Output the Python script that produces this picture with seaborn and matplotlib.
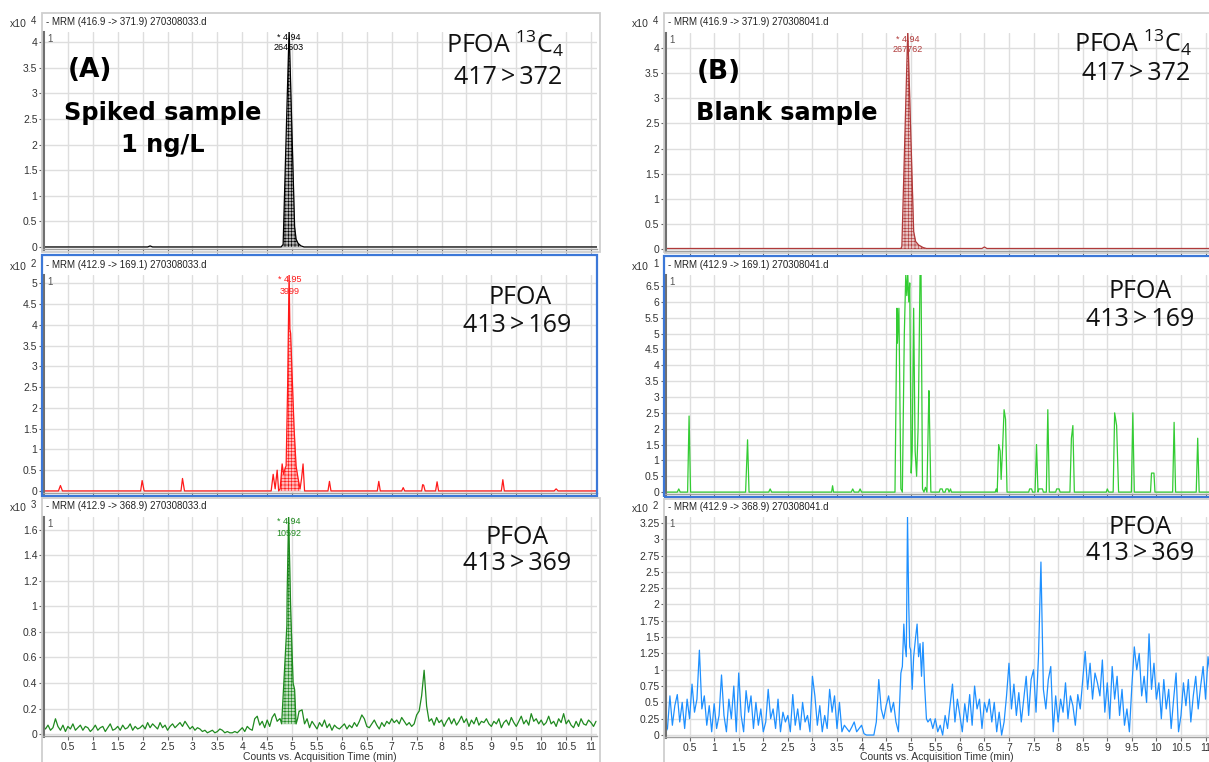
import numpy as np
import matplotlib
matplotlib.use("Agg")
import matplotlib.pyplot as plt
from matplotlib.colors import to_rgb
from matplotlib.patches import Rectangle
import seaborn as sns

# ---------------- data ----------------
# (A) spiked sample, 417>372 (x10^4 counts)
A1_T = [0.0, 2.10, 2.15, 2.20, 4.78, 4.82, 4.94, 5.05, 5.08, 5.12, 5.18, 5.24, 11.2]
A1_Y = [0.0, 0.0, 0.02, 0.0, 0.0, 0.05, 4.25, 0.4, 0.15, 0.07, 0.02, 0.0, 0.0]

# (A) 413>169 (x10^2 counts)
A2_T = [0.0, 0.31, 0.35, 0.39, 1.96, 1.99, 2.03, 2.77, 2.80, 2.84,
        4.58, 4.62, 4.66, 4.70, 4.73, 4.76, 4.80, 4.83, 4.86, 4.88, 4.91, 4.94, 4.955, 4.97,
        5.00, 5.04, 5.08, 5.12, 5.16, 5.19, 5.22, 5.25,
        5.72, 5.75, 5.78, 6.71, 6.74, 6.77, 7.20, 7.23, 7.26, 7.60, 7.62, 7.64, 7.67,
        7.88, 7.91, 7.94, 9.20, 9.23, 9.26, 10.26, 10.30, 10.34, 11.2]
A2_Y = [0.0, 0.0, 0.13, 0.0, 0.0, 0.25, 0.0, 0.0, 0.30, 0.0,
        0.0, 0.40, 0.05, 0.50, 0.0, 0.05, 0.65, 0.40, 0.55, 0.6, 2.5, 5.25, 3.9, 3.8,
        2.8, 1.5, 0.6, 0.3, 0.05, 0.3, 0.65, 0.0,
        0.0, 0.23, 0.0, 0.0, 0.23, 0.0, 0.0, 0.08, 0.0, 0.0, 0.15, 0.14, 0.0,
        0.0, 0.22, 0.0, 0.0, 0.27, 0.0, 0.0, 0.05, 0.0, 0.0]

# (A) 413>369 (x10^3 counts), baseline scans every 0.05 min, one row per minute
A3_NOISE = [
    [0.06, 0.04, 0.07, 0.03, 0.05, 0.12, 0.06, 0.03, 0.07, 0.02, 0.06, 0.04, 0.08, 0.03, 0.05, 0.07, 0.03, 0.06, 0.05, 0.02],
    [0.04, 0.07, 0.03, 0.05, 0.06, 0.02, 0.05, 0.08, 0.03, 0.04, 0.06, 0.03, 0.07, 0.04, 0.05, 0.08, 0.03, 0.06, 0.04, 0.05],
    [0.07, 0.04, 0.09, 0.05, 0.08, 0.06, 0.04, 0.09, 0.05, 0.07, 0.03, 0.06, 0.08, 0.05, 0.07, 0.09, 0.06, 0.10, 0.07, 0.04],
    [0.06, 0.03, 0.05, 0.04, 0.02, 0.03, 0.01, 0.02, 0.03, 0.01, 0.02, 0.04, 0.03, 0.01, 0.02, 0.01, 0.01, 0.02, 0.01, 0.03],
    [0.05, 0.02, 0.06, 0.04, 0.03, 0.12, 0.14, 0.07, 0.10, 0.05, 0.11, 0.06, 0.13, 0.16, 0.10, 0.12, 0.15, 0.10, 0.10, 0.10],
    [0.30, 0.30, 0.30, 0.18, 0.19, 0.08, 0.12, 0.05, 0.10, 0.07, 0.04, 0.09, 0.06, 0.11, 0.05, 0.08, 0.03, 0.07, 0.05, 0.04],
    [0.06, 0.08, 0.04, 0.07, 0.05, 0.09, 0.06, 0.10, 0.15, 0.12, 0.06, 0.05, 0.08, 0.11, 0.07, 0.04, 0.09, 0.06, 0.10, 0.08],
    [0.12, 0.09, 0.11, 0.08, 0.13, 0.10, 0.07, 0.09, 0.06, 0.08, 0.15, 0.18, 0.30, 0.50, 0.22, 0.10, 0.12, 0.07, 0.13, 0.09],
    [0.11, 0.06, 0.10, 0.13, 0.08, 0.12, 0.07, 0.10, 0.14, 0.09, 0.12, 0.06, 0.11, 0.08, 0.13, 0.07, 0.10, 0.09, 0.12, 0.08],
    [0.06, 0.10, 0.08, 0.12, 0.05, 0.09, 0.11, 0.07, 0.13, 0.09, 0.06, 0.10, 0.14, 0.08, 0.11, 0.07, 0.16, 0.10, 0.12, 0.08],
    [0.11, 0.07, 0.09, 0.14, 0.08, 0.10, 0.06, 0.12, 0.09, 0.16, 0.08, 0.11, 0.07, 0.05, 0.10, 0.06, 0.12, 0.08, 0.07, 0.11],
    [0.09, 0.06, 0.10],
]
A3_PK_T = [4.76, 4.79, 4.86, 4.895, 4.90, 4.93, 4.97, 5.02, 5.05, 5.08, 5.11, 5.14]
A3_PK_Y = [0.12, 0.08, 0.60, 0.85, 1.09, 1.72, 1.00, 0.40, 0.35, 0.08, 0.12, 0.18]

# (B) blank sample, 417>372 (x10^4 counts)
B1_T = [0.0, 4.80, 4.82, 4.94, 5.06, 5.10, 5.16, 5.25, 5.32, 6.45, 6.50, 6.55, 11.2]
B1_Y = [0.01, 0.01, 0.05, 4.35, 0.35, 0.15, 0.08, 0.03, 0.01, 0.01, 0.04, 0.01, 0.01]

# (B) 413>169 (x10^1 counts)
B2_T = [0.0, 0.25, 0.28, 0.31, 0.46, 0.49, 0.52, 1.64, 1.68, 1.71, 2.11, 2.14, 2.17,
        3.39, 3.41, 3.43, 3.79, 3.82, 3.85, 3.94, 3.97, 4.00,
        4.68, 4.72, 4.73, 4.76, 4.80, 4.83, 4.86, 4.87, 4.90, 4.92, 4.94, 4.96, 4.98, 5.01, 5.03,
        5.06, 5.09, 5.12, 5.15, 5.16, 5.19, 5.21, 5.24, 5.27, 5.30, 5.33, 5.37, 5.38, 5.41,
        5.58, 5.60, 5.64, 5.66, 5.70, 5.72, 5.76, 5.78, 5.81, 5.83,
        6.72, 6.74, 6.76, 6.79, 6.82, 6.84, 6.87, 6.90, 6.93, 6.96,
        7.40, 7.42, 7.46, 7.48, 7.53, 7.56, 7.59, 7.61, 7.68, 7.70, 7.76, 7.79, 7.82,
        7.95, 7.97, 8.02, 8.04, 8.24, 8.27, 8.30, 8.33,
        8.98, 9.00, 9.03, 9.12, 9.15, 9.19, 9.23, 9.49, 9.52, 9.55,
        9.88, 9.90, 9.95, 9.97, 10.33, 10.36, 10.39, 10.81, 10.84, 10.87, 11.2]
B2_Y = [0.0, 0.0, 0.1, 0.0, 0.0, 2.4, 0.0, 0.0, 1.65, 0.0, 0.0, 0.1, 0.0,
        0.0, 0.2, 0.0, 0.0, 0.1, 0.0, 0.0, 0.1, 0.0,
        0.0, 5.8, 4.7, 5.8, 0.1, 0.0, 3.8, 5.0, 6.9, 6.2, 6.9, 6.0, 6.6, 0.6, 1.3,
        5.8, 1.3, 0.5, 2.0, 3.0, 6.9, 6.9, 0.1, 0.0, 0.15, 0.0, 3.2, 2.5, 0.0,
        0.0, 0.1, 0.1, 0.0, 0.0, 0.1, 0.1, 0.0, 0.1, 0.0,
        0.0, 0.1, 0.0, 1.5, 1.3, 0.4, 1.4, 2.6, 2.3, 0.0,
        0.0, 0.1, 0.1, 0.0, 0.0, 1.5, 0.0, 0.1, 0.1, 0.0, 0.0, 2.6, 0.0,
        0.0, 0.1, 0.1, 0.0, 0.0, 1.7, 2.1, 0.0,
        0.0, 0.1, 0.0, 0.0, 2.5, 2.1, 0.0, 0.0, 2.5, 0.0,
        0.0, 0.6, 0.6, 0.0, 0.0, 2.2, 0.0, 0.0, 1.7, 0.0, 0.0]

# (B) 413>369 (x10^2 counts), baseline scans every 0.05 min
B3_NOISE = [
    [0.02, 0.10, 0.60, 0.15, 0.45, 0.62, 0.20, 0.50, 0.10, 0.55, 0.25, 0.78, 0.35, 0.55, 1.30, 0.40, 0.60, 0.15, 0.45, 0.05],
    [0.48, 0.10, 0.30, 0.92, 0.30, 0.05, 0.55, 0.25, 0.75, 0.05, 0.95, 0.30, 0.05, 0.68, 0.35, 0.60, 0.10, 0.50, 0.15, 0.40],
    [0.05, 0.20, 0.70, 0.25, 0.40, 0.10, 0.55, 0.05, 0.35, 0.20, 0.30, 0.05, 0.62, 0.15, 0.40, 0.08, 0.50, 0.20, 0.30, 0.05],
    [0.90, 0.60, 0.15, 0.45, 0.05, 0.30, 0.10, 0.70, 0.35, 0.60, 0.10, 0.50, 0.05, 0.15, 0.10, 0.05, 0.12, 0.20, 0.05, 0.10],
    [0.15, 0.02, 0.00, 0.00, 0.00, 0.00, 0.20, 0.85, 0.40, 0.25, 0.45, 0.60, 0.35, 0.50, 0.20, 0.05, 0.95, 1.05, 1.50, 1.50],
    [1.30, 1.50, 1.40, 1.20, 1.40, 0.90, 0.80, 0.20, 0.25, 0.10, 0.25, 0.05, 0.15, 0.00, 0.30, 0.10, 0.45, 0.78, 0.20, 0.55],
    [0.30, 0.05, 0.48, 0.20, 0.62, 0.15, 0.75, 0.40, 0.55, 0.10, 0.50, 0.35, 0.55, 0.20, 0.50, 0.05, 0.35, 0.00, 0.20, 0.60],
    [1.10, 0.40, 0.78, 0.30, 0.65, 0.20, 0.55, 0.90, 0.30, 0.85, 1.00, 0.35, 1.20, 2.65, 0.70, 0.40, 0.85, 1.05, 0.05, 0.60],
    [0.20, 0.55, 0.35, 0.80, 0.25, 0.60, 0.45, 0.15, 0.62, 0.40, 0.85, 1.28, 0.70, 1.10, 0.55, 0.95, 0.80, 0.60, 1.15, 0.35],
    [0.80, 0.25, 1.05, 0.55, 0.90, 0.30, 0.70, 0.15, 0.40, 0.05, 0.75, 1.35, 1.00, 1.25, 0.60, 0.90, 0.50, 1.55, 0.70, 1.10],
    [0.55, 0.80, 0.25, 0.85, 0.40, 0.70, 0.10, 0.55, 0.95, 0.05, 0.30, 0.80, 0.45, 0.85, 0.20, 0.60, 0.90, 0.40, 0.75, 1.05],
    [0.55, 1.20, 0.90],
]
B3_PK_T = [4.80, 4.83, 4.86, 4.88, 4.91, 4.935, 4.96, 4.98, 5.00, 5.03, 5.06, 5.10, 5.13, 5.16, 5.19, 5.22, 5.25, 5.28, 5.32]
B3_PK_Y = [0.95, 1.05, 1.70, 1.40, 1.20, 3.34, 2.00, 1.35, 1.30, 0.70, 1.20, 1.50, 1.70, 1.20, 1.40, 0.90, 1.42, 0.80, 0.25]

SCAN_STEP = 0.05

HEADERS_A = ["- MRM (416.9 -> 371.9) 270308033.d", "- MRM (412.9 -> 169.1) 270308033.d", "- MRM (412.9 -> 368.9) 270308033.d"]
HEADERS_B = ["- MRM (416.9 -> 371.9) 270308041.d", "- MRM (412.9 -> 169.1) 270308041.d", "- MRM (412.9 -> 368.9) 270308041.d"]
EXPS_A = ["4", "2", "3"]
EXPS_B = ["4", "1", "2"]
PEAK_LABELS_A = [("* 4.94", "264503"), ("* 4.95", "3999"), ("* 4.94", "10592")]
PEAK_LABEL_B = ("* 4.94", "267762")
TRANSITIONS = ["417\u2009>\u2009372", "413\u2009>\u2009169", "413\u2009>\u2009369"]


def splice(rows, pk_t, pk_y):
    y = np.concatenate([np.asarray(r, float) for r in rows])
    t = np.arange(len(y)) * SCAN_STEP
    keep = (t < pk_t[0] - 1e-9) | (t > pk_t[-1] + 1e-9)
    tt = np.concatenate([t[keep], pk_t])
    yy = np.concatenate([y[keep], pk_y])
    o = np.argsort(tt, kind="stable")
    return tt[o], yy[o]


A3_T, A3_Y = splice(A3_NOISE, A3_PK_T, A3_PK_Y)
B3_T, B3_Y = splice(B3_NOISE, B3_PK_T, B3_PK_Y)

# ---------------- figure ----------------
W, H = 1209, 762
sns.set_theme(style="white")
plt.rcParams["font.family"] = ["Liberation Sans", "DejaVu Sans"]
plt.rcParams["hatch.linewidth"] = 0.45
plt.rcParams["mathtext.fontset"] = "custom"
plt.rcParams["mathtext.rm"] = "Open Sans"

fig = plt.figure(figsize=(W / 100, H / 100), dpi=100)


def ftext(x, y, s, **kw):
    fig.text(x / W, 1 - y / H, s, **kw)


def fbox(x0, y0, x1, y1, color, lw):
    fig.add_artist(Rectangle((x0 / W, 1 - y1 / H), (x1 - x0) / W, (y1 - y0) / H,
                             transform=fig.transFigure, fill=False, ec=color, lw=lw))


def tint(color, k):
    c = np.array(to_rgb(color))
    return tuple(1 - (1 - c) * k)


def panel(x0, x1, top, bot, xmax, t, y, color, ylim, yticks, show_x,
          fill=None, base=0.0):
    ax = fig.add_axes([x0 / W, 1 - bot / H, (x1 - x0) / W, (bot - top) / H])
    t = np.asarray(t, float)
    y = np.asarray(y, float)
    if fill is not None:
        m = (t >= fill[0]) & (t <= fill[1])
        ax.fill_between(t, base, y, where=m, interpolate=True,
                        facecolor=tint(color, 0.3), linewidth=0)
        ax.fill_between(t, base, y, where=m, interpolate=True, facecolor="none",
                        edgecolor=color, hatch="+++++", linewidth=0)
    sns.lineplot(x=t, y=y, ax=ax, color=color, linewidth=0.9,
                 estimator=None, sort=False, legend=False)
    ax.set_xlim(0, xmax)
    ax.set_ylim(*ylim)
    xt = np.arange(0.5, 11.01, 0.5)
    ax.set_xticks(xt)
    ax.set_xticklabels([f"{v:g}" for v in xt] if show_x else [])
    ax.set_yticks(yticks)
    ax.set_yticklabels([f"{v:g}" for v in yticks])
    ax.grid(True, color="#dedede", lw=1)
    ax.set_axisbelow(True)
    ax.set_xlabel("")
    ax.set_ylabel("")
    for s in ["top", "right"]:
        ax.spines[s].set_visible(False)
    ax.spines["left"].set_color("#707070")
    ax.spines["left"].set_linewidth(2.2)
    ax.spines["bottom"].set_color("#a0a0a0")
    ax.spines["bottom"].set_linewidth(1)
    ax.tick_params(axis="both", which="both", labelsize=7.5, length=3, width=0.8,
                   color="#666666", labelcolor="#333333", pad=1,
                   left=True, bottom=True)
    return ax


LEFT = (43, 597, 11.12)
RIGHT = (665, 1209, 11.07)
ROWS_L = [(22, 32, 249), (265, 275, 493), (506, 517, 736)]
ROWS_R = [(22, 33, 251), (265, 275, 494), (507, 517, 737)]

# outer frames
fbox(42, 13, 600, 252, "#cfcfcf", 1.3)
fbox(42, 255, 597, 496, "#3c78d8", 1.6)
fbox(42, 498, 600, 770, "#cfcfcf", 1.3)
fbox(664, 13, 1215, 253, "#cfcfcf", 1.3)
fbox(664, 256, 1215, 497, "#3c78d8", 1.6)
fbox(664, 499, 1215, 770, "#cfcfcf", 1.3)

# ---- column A ----
x0, x1, xm = LEFT
panel(x0, x1, ROWS_L[0][1], ROWS_L[0][2], xm, A1_T, A1_Y, "black",
      (-0.04, 4.2), np.arange(0, 4.01, 0.5), False, fill=(4.80, 5.16))
panel(x0, x1, ROWS_L[1][1], ROWS_L[1][2], xm, A2_T, A2_Y, "#ff1a1a",
      (-0.05, 5.2), np.arange(0, 5.01, 0.5), False, fill=(4.74, 5.16))
panel(x0, x1, ROWS_L[2][1], ROWS_L[2][2], xm, A3_T, A3_Y, "#1f8a1f",
      (-0.015, 1.7), np.arange(0, 1.61, 0.2), True, fill=(4.79, 5.08), base=0.08)

# ---- column B ----
x0r, x1r, xmr = RIGHT
panel(x0r, x1r, ROWS_R[0][1], ROWS_R[0][2], xmr, B1_T, B1_Y, "#b03a3a",
      (-0.04, 4.3), np.arange(0, 4.01, 0.5), False, fill=(4.80, 5.30))
panel(x0r, x1r, ROWS_R[1][1], ROWS_R[1][2], xmr, B2_T, B2_Y, "#33cc33",
      (-0.06, 6.85), np.arange(0, 6.51, 0.5), False)
panel(x0r, x1r, ROWS_R[2][1], ROWS_R[2][2], xmr, B3_T, B3_Y, "#1e90ff",
      (-0.03, 3.34), np.arange(0, 3.26, 0.25), True)

# headers, exponents, "1" marks
for (xa, rows, heads, exps) in [(43, ROWS_L, HEADERS_A, EXPS_A), (665, ROWS_R, HEADERS_B, EXPS_B)]:
    for (hy, top, bot), head, e in zip(rows, heads, exps):
        ftext(xa + 3, hy, head, fontsize=7, color="#222222", va="center", ha="left")
        ftext(xa - 16, hy + 2, "x10", fontsize=7.5, color="#333333", va="center", ha="right")
        ftext(xa - 12, hy - 1, e, fontsize=7, color="#333333", va="center", ha="left")
        ftext(xa + 4, top + 7, "1", fontsize=7, color="#555555", va="center", ha="left")


# peak annotations
def tx(px0, t, xmax, px1):
    return px0 + (px1 - px0) * t / xmax


pk_cols = ["black", "#ff1a1a", "#1f8a1f"]
pk_t = [4.94, 4.95, 4.94]
for (hy, top, bot), (l1, l2), c, tp in zip(ROWS_L, PEAK_LABELS_A, pk_cols, pk_t):
    xp = tx(x0, tp, xm, x1)
    ftext(xp, top + 5, l1, fontsize=6.5, color=c, ha="center", va="center")
    ftext(xp, top + 16, l2, fontsize=6.5, color=c, ha="center", va="center")
xp = tx(x0r, 4.94, xmr, x1r)
ftext(xp, ROWS_R[0][1] + 6, PEAK_LABEL_B[0], fontsize=6.5, color="#b03a3a", ha="center", va="center")
ftext(xp, ROWS_R[0][1] + 17, PEAK_LABEL_B[1], fontsize=6.5, color="#b03a3a", ha="center", va="center")

# compound labels
lab = dict(fontsize=18, color="#111111", ha="center", va="center", family=["Open Sans", "DejaVu Sans"])
ftext(505, 44, "PFOA $\\mathregular{^{13}C_4}$", **lab)
ftext(508, 77, TRANSITIONS[0], **lab)
ftext(520, 298, "PFOA", **lab)
ftext(517, 326, TRANSITIONS[1], **lab)
ftext(517, 538, "PFOA", **lab)
ftext(517, 563, TRANSITIONS[2], **lab)
ftext(1133, 43, "PFOA $\\mathregular{^{13}C_4}$", **lab)
ftext(1136, 73, TRANSITIONS[0], **lab)
ftext(1140, 292, "PFOA", **lab)
ftext(1140, 320, TRANSITIONS[1], **lab)
ftext(1140, 527, "PFOA", **lab)
ftext(1140, 554, TRANSITIONS[2], **lab)

# sample labels
bold = dict(color="black", fontweight="bold", family="DejaVu Sans", va="center")
ftext(68, 70, "(A)", ha="left", fontsize=19, **bold)
ftext(163, 113, "Spiked sample", ha="center", fontsize=17.3, **bold)
ftext(163, 145, "1 ng/L", ha="center", fontsize=17.3, **bold)
ftext(697, 72, "(B)", ha="left", fontsize=19, **bold)
ftext(696, 113, "Blank sample", ha="left", fontsize=17.3, **bold)

# x axis titles
ftext((x0 + x1) / 2, 757, "Counts vs. Acquisition Time (min)", fontsize=7.5, color="#333333", ha="center", va="center")
ftext((x0r + x1r) / 2, 757, "Counts vs. Acquisition Time (min)", fontsize=7.5, color="#333333", ha="center", va="center")

fig.savefig("out.png", dpi=100, facecolor="white")
